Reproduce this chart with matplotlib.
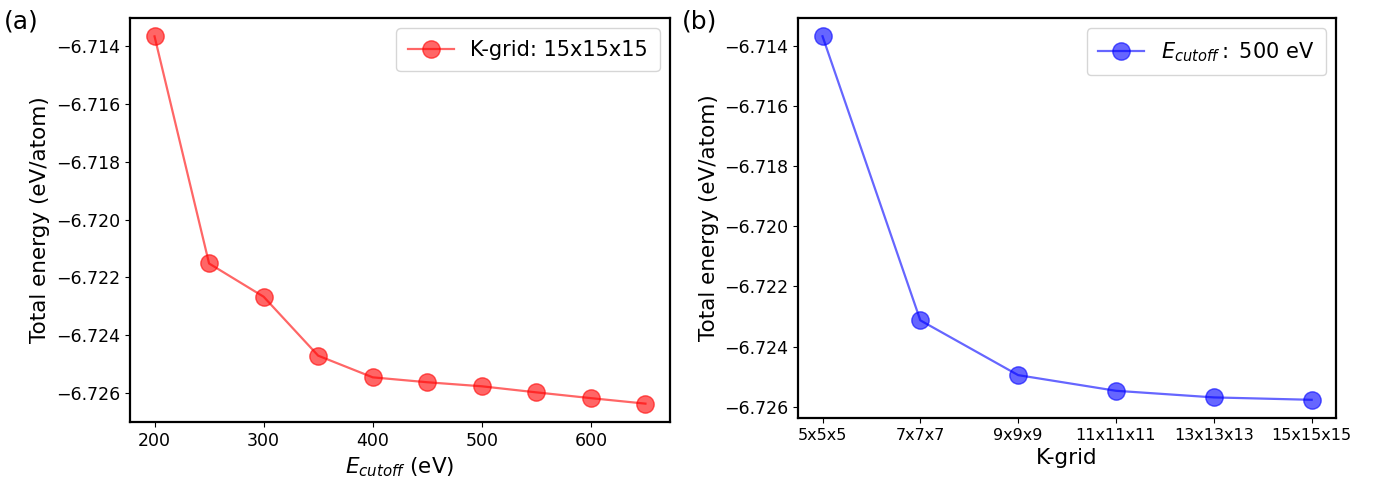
import matplotlib.pyplot as plt

# --- Data ---
# (a) cutoff energy convergence at K-grid 15x15x15
ecut = [200, 250, 300, 350, 400, 450, 500, 550, 600, 650]
energy_ecut = [-6.71366, -6.72152, -6.72267, -6.72471, -6.72546,
               -6.72563, -6.72577, -6.72598, -6.72618, -6.72637]

# (b) k-grid convergence at 500 eV
kgrid_labels = ['5x5x5', '7x7x7', '9x9x9', '11x11x11', '13x13x13', '15x15x15']
energy_kgrid = [-6.71369, -6.72313, -6.72495, -6.72547, -6.72569, -6.72577]

fig = plt.figure(figsize=(13.8, 4.83), dpi=100)

ax1 = fig.add_axes([0.0942, 0.1263, 0.3913, 0.8364])
ax2 = fig.add_axes([0.5783, 0.1346, 0.3899, 0.8280])

# panel (a)
ax1.plot(ecut, energy_ecut, '-o', color='red', alpha=0.6, markersize=12.5,
         linewidth=1.6, label='K-grid: 15x15x15')
ax1.set_xlabel(r'$E_{cutoff}$ (eV)', fontsize=15.5)
ax1.set_ylabel('Total energy (eV/atom)', fontsize=15.5)
ax1.legend(loc='upper right', fontsize=15, borderpad=0.55, handlelength=2.2)

# panel (b)
kx = list(range(len(kgrid_labels)))
ax2.plot(kx, energy_kgrid, '-o', color='blue', alpha=0.6, markersize=12.5,
         linewidth=1.6, label=r'$E_{cutoff}:$ 500 eV')
ax2.set_xticks(kx)
ax2.set_xticklabels(kgrid_labels)
ax2.set_xlabel('K-grid', fontsize=15.5)
ax2.set_ylabel('Total energy (eV/atom)', fontsize=15.5)
ax2.legend(loc='upper right', fontsize=15, borderpad=0.55, handlelength=2.2)

for ax in (ax1, ax2):
    ax.tick_params(labelsize=12.5)
    ax.set_yticks([-6.714, -6.716, -6.718, -6.720, -6.722, -6.724, -6.726])
    ax.set_yticklabels(['\u22126.714', '\u22126.716', '\u22126.718', '\u22126.720',
                        '\u22126.722', '\u22126.724', '\u22126.726'])
    for sp in ax.spines.values():
        sp.set_linewidth(1.6)

ax2.tick_params(axis='x', labelsize=11.5)

fig.text(0.003, 0.955, '(a)', fontsize=18, va='center')
fig.text(0.494, 0.955, '(b)', fontsize=18, va='center')

fig.savefig('out.png', dpi=100)
